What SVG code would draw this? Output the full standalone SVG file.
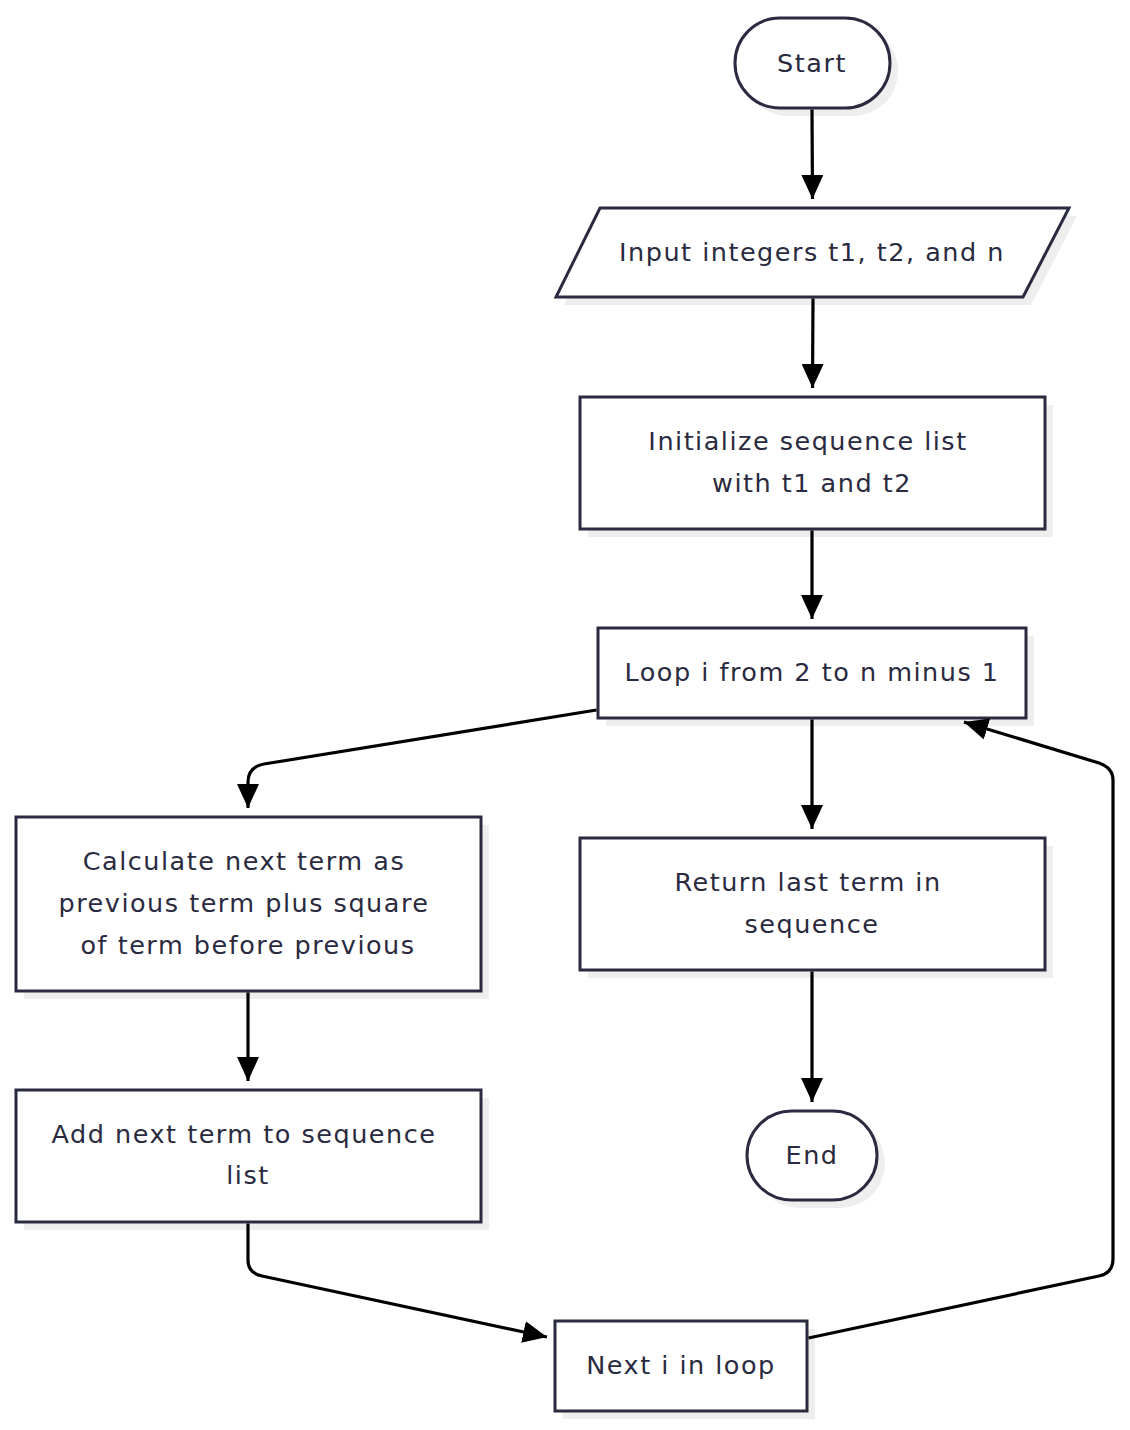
<svg xmlns="http://www.w3.org/2000/svg" width="1130" height="1430" viewBox="0 0 1130 1430">
<defs>
<marker id="ah" viewBox="0 0 24 22" refX="24" refY="11" markerWidth="24" markerHeight="22" markerUnits="userSpaceOnUse" orient="auto">
<path d="M0,0 L24,11 L0,22 Z" fill="#000"/>
</marker>
</defs>
<style>
.shape{fill:#fff;stroke:#2a2a40;stroke-width:3}
.shadow{fill:#eeeeee}
.t{font-family:"DejaVu Sans","Noto Sans",sans-serif;font-size:25.5px;fill:#2a2a40;text-anchor:middle;dominant-baseline:central;letter-spacing:1.5px}
.c{fill:none;stroke:#000;stroke-width:3.2}
</style>
<rect width="1130" height="1430" fill="#fff"/>
<g id="start">
<rect class="shadow" x="743" y="26" width="155" height="90" rx="45"/>
<rect class="shape" x="735" y="18" width="155" height="90" rx="45"/>
<text class="t" x="812" y="63">Start</text>
</g>
<g id="input">
<path class="shadow" d="M608,216 L1077,216 L1031,305 L564,305 Z"/>
<path class="shape" d="M600,208 L1069,208 L1023,297 L556,297 Z"/>
<text class="t" x="812" y="252">Input integers t1, t2, and n</text>
</g>
<g id="init">
<rect class="shadow" x="588" y="405" width="465" height="132"/>
<rect class="shape" x="580" y="397" width="465" height="132"/>
<text class="t" x="808" y="441">Initialize sequence list</text>
<text class="t" x="812" y="483">with t1 and t2</text>
</g>
<g id="loop">
<rect class="shadow" x="606" y="636" width="428" height="90"/>
<rect class="shape" x="598" y="628" width="428" height="90"/>
<text class="t" x="812" y="672">Loop i from 2 to n minus 1</text>
</g>
<g id="calc">
<rect class="shadow" x="24" y="825" width="465" height="174"/>
<rect class="shape" x="16" y="817" width="465" height="174"/>
<text class="t" x="244" y="861">Calculate next term as</text>
<text class="t" x="244" y="903">previous term plus square</text>
<text class="t" x="248" y="945">of term before previous</text>
</g>
<g id="return">
<rect class="shadow" x="588" y="846" width="465" height="132"/>
<rect class="shape" x="580" y="838" width="465" height="132"/>
<text class="t" x="808" y="882">Return last term in</text>
<text class="t" x="812" y="924">sequence</text>
</g>
<g id="end">
<rect class="shadow" x="755" y="1119" width="130" height="89" rx="44.5"/>
<rect class="shape" x="747" y="1111" width="130" height="89" rx="44.5"/>
<text class="t" x="812" y="1155">End</text>
</g>
<g id="add">
<rect class="shadow" x="24" y="1098" width="465" height="132"/>
<rect class="shape" x="16" y="1090" width="465" height="132"/>
<text class="t" x="244" y="1134">Add next term to sequence</text>
<text class="t" x="248" y="1175">list</text>
</g>
<g id="next">
<rect class="shadow" x="563" y="1329" width="252" height="90"/>
<rect class="shape" x="555" y="1321" width="252" height="90"/>
<text class="t" x="681" y="1365">Next i in loop</text>
</g>
<g id="connectors">
<path class="c" d="M812,109.5 L812.5,199" marker-end="url(#ah)"/>
<path class="c" d="M813,298.5 L812.5,388" marker-end="url(#ah)"/>
<path class="c" d="M812,530.5 L812,619" marker-end="url(#ah)"/>
<path class="c" d="M812,719.5 L812,829" marker-end="url(#ah)"/>
<path class="c" d="M812,971.5 L812,1102" marker-end="url(#ah)"/>
<path class="c" d="M596.5,710 L264,764 Q248,767 248,782 L248,808" marker-end="url(#ah)"/>
<path class="c" d="M248,992.5 L248,1081" marker-end="url(#ah)"/>
<path class="c" d="M248,1223.5 L248,1260 Q248,1273 262,1276 L547,1337" marker-end="url(#ah)"/>
<path class="c" d="M808.5,1338 L1099,1276 Q1113,1273 1113,1259 L1113,780 Q1113,768 1099,763 L964,722" marker-end="url(#ah)"/>
</g>
</svg>
